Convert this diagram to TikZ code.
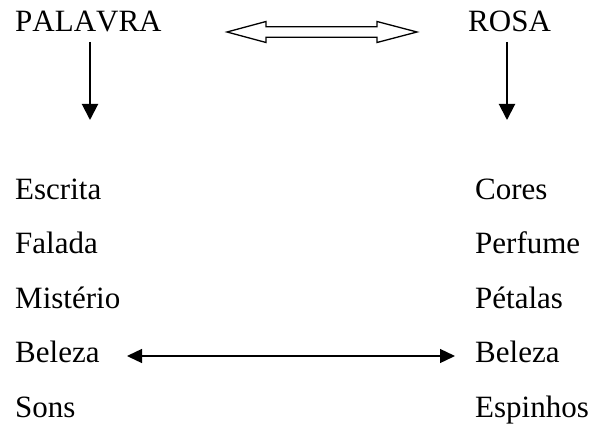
\documentclass[tikz,border=0pt]{standalone}
\usepackage{fontspec}
\setmainfont[Kerning=Off]{Liberation Serif}
\usetikzlibrary{arrows.meta}
\begin{document}
\begin{tikzpicture}[x=1pt,y=-1pt,
  word/.style={anchor=base west,inner sep=0pt,font=\fontsize{31}{37}\selectfont},
  downarrow/.style={line width=2pt,-{Triangle[length=16pt,width=16pt]}},
  linkarrow/.style={line width=1.3pt,{Triangle[length=15pt,width=14pt]}-{Triangle[length=15pt,width=14pt]}}]
\useasboundingbox (0,0) rectangle (594,425);
% top
\node[word] (palavra) at (15,32) {PALAVRA};
\node[word] (rosa) at (468,32) {ROSA};
% open double arrow
\draw[line width=1.3pt,line join=miter]
  (227,32) -- (266,21.5) -- (266,26.7) -- (377,26.7) -- (377,21.5) -- (417,32)
  -- (377,42.5) -- (377,37.3) -- (266,37.3) -- (266,42.5) -- cycle;
% down arrows
\coordinate (la1) at (90,42);
\coordinate (la2) at (90,120);
\coordinate (ra1) at (507,42);
\coordinate (ra2) at (507,120);
\draw[downarrow] (la1) -- (la2);
\draw[downarrow] (ra1) -- (ra2);
% left list
\node[word] (l1) at (15,199) {Escrita};
\node[word] (l2) at (15,253.5) {Falada};
\node[word] (l3) at (15,308) {Mistério};
\node[word] (l4) at (15,362.5) {Beleza};
\node[word] (l5) at (15,417) {Sons};
% right list
\node[word] (r1) at (475,199) {Cores};
\node[word] (r2) at (475,253.5) {Perfume};
\node[word] (r3) at (475,308) {Pétalas};
\node[word] (r4) at (475,362.5) {Beleza};
\node[word] (r5) at (475,417) {Espinhos};
% beleza link
\coordinate (b1) at (127,356);
\coordinate (b2) at (455,356);
\draw[linkarrow] (b1) -- (b2);
\end{tikzpicture}
\end{document}
